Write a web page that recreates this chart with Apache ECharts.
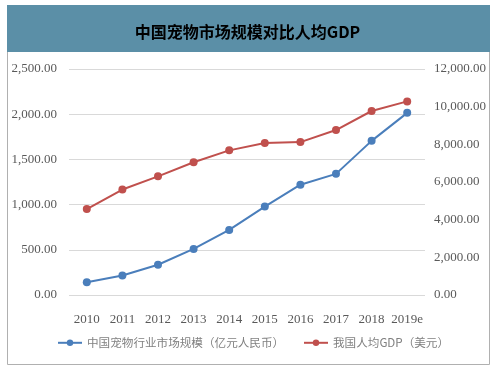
<!DOCTYPE html>
<html><head><meta charset="utf-8">
<script src="https://cdn.jsdelivr.net/npm/echarts@6/dist/echarts.min.js"></script>
<style>html,body{margin:0;padding:0;background:#fff}#c{width:495px;height:370px}</style>
</head><body><div id="c"></div>
<script>
const categories = ['2010','2011','2012','2013','2014','2015','2016','2017','2018','2019e'];
const petMarket = [140, 215, 335, 510, 720, 978, 1220, 1340, 1705, 2015];
const gdpPerCapita = [4560, 5600, 6300, 7050, 7680, 8070, 8120, 8760, 9770, 10280];
const seriesNames = ['中国宠物行业市场规模（亿元人民币）', '我国人均GDP（美元）'];
const titleText = '中国宠物市场规模对比人均GDP';

const fmt = v => v.toLocaleString('en-US', {minimumFractionDigits: 2, maximumFractionDigits: 2});
const serif = '"Liberation Serif", "Times New Roman", serif';
const legendText = {fontFamily: '"Noto Sans CJK SC", serif', fontSize: 11.6, color: '#808080'};
const chart = echarts.init(document.getElementById('c'));
chart.setOption({
  animation: false,
  backgroundColor: '#fff',
  graphic: [
    {type: 'rect', shape: {x: 7.5, y: 5.5, width: 482, height: 359}, style: {fill: 'none', stroke: '#b0b0b0', lineWidth: 1}, z: 0},
    {type: 'rect', shape: {x: 7, y: 5, width: 483, height: 47}, style: {fill: '#5b8fa7'}, z: 1}
  ],
  title: {
    text: titleText, left: 'center', top: 19,
    textStyle: {fontFamily: '"Noto Sans CJK SC", sans-serif', fontSize: 16, fontWeight: 'bold', color: '#000'}
  },
  legend: [
    {top: 337, left: 57, padding: 0, itemWidth: 24, itemHeight: 8, itemGap: 4, textStyle: legendText, data: [seriesNames[0]]},
    {top: 337, left: 303, padding: 0, itemWidth: 24, itemHeight: 8, itemGap: 4, textStyle: legendText, data: [seriesNames[1]]}
  ],
  grid: {left: 69, right: 70, top: 69, bottom: 75},
  xAxis: {
    type: 'category', data: categories, boundaryGap: true,
    axisLine: {show: false}, axisTick: {show: false},
    axisLabel: {interval: 0, fontFamily: serif, fontSize: 13, color: '#595959', margin: 18}
  },
  yAxis: [
    {type: 'value', min: 0, max: 2500, interval: 500,
     axisLine: {show: false}, axisTick: {show: false},
     splitLine: {lineStyle: {color: '#d9d9d9'}},
     axisLabel: {formatter: fmt, fontFamily: serif, fontSize: 13, color: '#595959', margin: 12}},
    {type: 'value', min: 0, max: 12000, interval: 2000,
     axisLine: {show: false}, axisTick: {show: false}, splitLine: {show: false},
     axisLabel: {formatter: fmt, fontFamily: serif, fontSize: 13, color: '#595959', margin: 9}}
  ],
  series: [
    {name: seriesNames[0], type: 'line', data: petMarket, yAxisIndex: 0,
     symbol: 'circle', symbolSize: 8, color: '#4a7ebb', lineStyle: {width: 2}},
    {name: seriesNames[1], type: 'line', data: gdpPerCapita, yAxisIndex: 1,
     symbol: 'circle', symbolSize: 8, color: '#c0504d', lineStyle: {width: 2}}
  ]
});
</script></body></html>
